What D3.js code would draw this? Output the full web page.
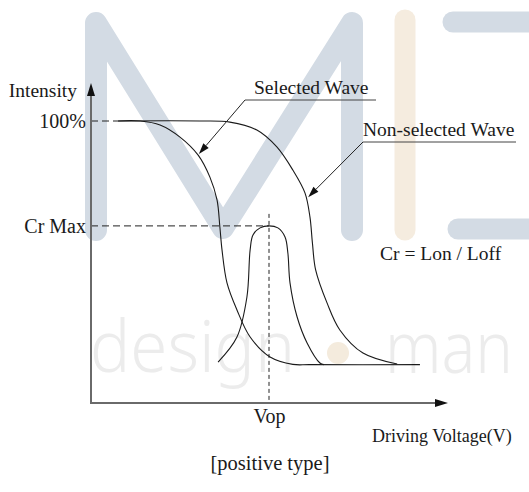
<!DOCTYPE html>
<html>
<head>
<meta charset="utf-8">
<script src="https://cdn.jsdelivr.net/npm/d3@7"></script>
<style>
  body { margin: 0; background: #fff; }
  svg text { font-family: "Liberation Serif", "Times New Roman", serif; fill: #1a1a1a; }
</style>
</head>
<body>
<div id="canvas"></div>
<script>
// curve values: [driving voltage %, intensity %]
const selectedWave = [
  [7.6, 100], [13.8, 100], [19.4, 98.6], [25.0, 94.3], [30.1, 87.9], [33.4, 80.1],
  [35.4, 72.0], [36.2, 62.4], [36.8, 54.3], [38.2, 42.6], [41.0, 33.0], [44.7, 23.4],
  [50.3, 16.3], [56.7, 13.7], [61.5, 13.6], [92.4, 13.6]
];
const nonSelectedWave = [
  [7.6, 100], [30.6, 100], [39.0, 99.6], [46.6, 96.8], [52.2, 90.8], [56.7, 82.6],
  [60.1, 74.5], [61.5, 66.0], [62.2, 56.7], [63.1, 47.2], [66.3, 35.5], [69.9, 25.9],
  [76.4, 17.7], [86.0, 13.8]
];
const contrastCurve = [
  [35.7, 14.5], [41.0, 23.4], [43.8, 37.6], [44.7, 54.3], [45.5, 59.6], [47.5, 62.1],
  [50.0, 62.8], [52.5, 62.1], [54.5, 58.9], [55.3, 53.2], [55.9, 42.6], [57.9, 30.5],
  [60.7, 21.3], [64.3, 14.2], [65.4, 13.6]
];

const yTicks = [100, 62.8];
const yTickLabels = ["100%", "Cr Max"];
const xTicks = [50];
const xTickLabels = ["Vop"];

// annotation arrows point at data positions
const annotations = [
  { label: "Selected Wave", at: [30.3, 88.3] },
  { label: "Non-selected Wave", at: [61.0, 73.0] }
];

const width = 529, height = 492;

const svg = d3.select("#canvas")
  .append("svg")
  .attr("width", width)
  .attr("height", height);

// Background watermark
const wm = svg.append("g").attr("fill", "none").attr("stroke-linecap", "round").attr("stroke-linejoin", "round");
wm.append("path")
  .attr("d", "M96,230 L96,23 L223,228 L352,23 L352,230")
  .attr("stroke", "#d3dbe4").attr("stroke-width", 22);
wm.append("line").attr("x1", 405).attr("y1", 20).attr("x2", 405).attr("y2", 230)
  .attr("stroke", "#f5ecdf").attr("stroke-width", 21);
wm.append("line").attr("x1", 453).attr("y1", 22).attr("x2", 560).attr("y2", 22)
  .attr("stroke", "#d3dbe4").attr("stroke-width", 21);
wm.append("line").attr("x1", 458).attr("y1", 229).attr("x2", 560).attr("y2", 229)
  .attr("stroke", "#d3dbe4").attr("stroke-width", 21);
svg.append("text").text("design")
  .attr("transform", "translate(90,372) scale(1,1.2)")
  .attr("textLength", 205).attr("lengthAdjust", "spacingAndGlyphs")
  .style("font-family", "'Noto Sans', sans-serif").style("font-size", "60px")
  .style("font-weight", 300).style("fill", "#ececec");
svg.append("text").text("man")
  .attr("transform", "translate(385,373) scale(1,1.2)")
  .attr("textLength", 128).attr("lengthAdjust", "spacingAndGlyphs")
  .style("font-family", "'Noto Sans', sans-serif").style("font-size", "60px")
  .style("font-weight", 300).style("fill", "#ececec");
svg.append("circle").attr("cx", 338).attr("cy", 353).attr("r", 11).attr("fill", "#f4ebdd");

// Scales
const x = d3.scaleLinear().domain([0, 100]).range([91, 447]);
const y = d3.scaleLinear().domain([0, 100]).range([403, 121]);

// Dashed guide lines
svg.append("line")
  .attr("x1", x(0)).attr("x2", x(selectedWave[0][0]))
  .attr("y1", y(100)).attr("y2", y(100))
  .attr("stroke", "#222").attr("stroke-dasharray", "7,4");
svg.append("line")
  .attr("x1", x(0)).attr("x2", x(xTicks[0]))
  .attr("y1", y(yTicks[1])).attr("y2", y(yTicks[1]))
  .attr("stroke", "#222").attr("stroke-dasharray", "7,4");
svg.append("line")
  .attr("x1", x(xTicks[0])).attr("x2", x(xTicks[0]))
  .attr("y1", y(yTicks[1]) - 12).attr("y2", y(0))
  .attr("stroke", "#222").attr("stroke-dasharray", "4,3");

// Curves
const line = d3.line()
  .x(d => x(d[0]))
  .y(d => y(d[1]))
  .curve(d3.curveCatmullRom.alpha(0.5));

[selectedWave, nonSelectedWave, contrastCurve].forEach(s => {
  svg.append("path")
    .datum(s)
    .attr("d", line)
    .attr("fill", "none")
    .attr("stroke", "#1a1a1a")
    .attr("stroke-width", 1.1);
});

// Axes (labels only, lines drawn below with arrows)
const yAxis = svg.append("g")
  .attr("transform", `translate(${x(0)},0)`)
  .call(d3.axisLeft(y).tickValues(yTicks).tickFormat((d, i) => yTickLabels[i]).tickSize(0).tickPadding(5));
const xAxis = svg.append("g")
  .attr("transform", `translate(0,${y(0)})`)
  .call(d3.axisBottom(x).tickValues(xTicks).tickFormat((d, i) => xTickLabels[i]).tickSize(0).tickPadding(6));
[yAxis, xAxis].forEach(a => {
  a.select(".domain").remove();
  a.selectAll("text")
    .style("font-family", "'Liberation Serif', serif")
    .style("font-size", "20px")
    .style("fill", "#1a1a1a");
});

svg.append("line")
  .attr("x1", x(0)).attr("x2", x(0))
  .attr("y1", y(0) + 1).attr("y2", 92)
  .attr("stroke", "#6a6a6a").attr("stroke-width", 2);
svg.append("line")
  .attr("x1", x(0) - 1).attr("x2", 438)
  .attr("y1", y(0)).attr("y2", y(0))
  .attr("stroke", "#6a6a6a").attr("stroke-width", 2);
svg.append("path")
  .attr("d", `M${x(0)},83 L${x(0) - 4},96 L${x(0) + 4},96 Z`)
  .attr("fill", "#111");
svg.append("path")
  .attr("d", `M448,${y(0)} L435,${y(0) - 4} L435,${y(0) + 4} Z`)
  .attr("fill", "#111");

// Axis titles
svg.append("text").text("Intensity")
  .attr("x", 77).attr("y", 97).attr("text-anchor", "end")
  .style("font-size", "19.5px");
svg.append("text").text("Driving Voltage(V)")
  .attr("x", 372).attr("y", 442)
  .style("font-size", "18px");
svg.append("text").text("[positive type]")
  .attr("x", 270).attr("y", 470).attr("text-anchor", "middle")
  .style("font-size", "20.5px");
svg.append("text").text("Cr = Lon / Loff")
  .attr("x", 380).attr("y", 260)
  .style("font-size", "19.5px");

// Annotation labels with leader arrows
const labelBoxes = [
  { x: 245, y: 100, w: 131, tx: 254, ty: 94 },
  { x: 363, y: 142, w: 153, tx: 363, ty: 136 }
];
annotations.forEach((a, i) => {
  const b = labelBoxes[i];
  const tipX = x(a.at[0]), tipY = y(a.at[1]);
  svg.append("text").text(a.label)
    .attr("x", b.tx).attr("y", b.ty)
    .style("font-size", "19.5px");
  svg.append("line")
    .attr("x1", b.x).attr("x2", b.x + b.w)
    .attr("y1", b.y).attr("y2", b.y)
    .attr("stroke", "#444").attr("stroke-width", 1);
  const ang = Math.atan2(tipY - b.y, tipX - b.x);
  const len = 11, hw = 3.5;
  const bx = tipX - len * Math.cos(ang), by = tipY - len * Math.sin(ang);
  svg.append("line")
    .attr("x1", b.x).attr("y1", b.y)
    .attr("x2", bx).attr("y2", by)
    .attr("stroke", "#222").attr("stroke-width", 1);
  const px = -Math.sin(ang) * hw, py = Math.cos(ang) * hw;
  svg.append("path")
    .attr("d", `M${tipX},${tipY} L${bx + px},${by + py} L${bx - px},${by - py} Z`)
    .attr("fill", "#111");
});
</script>
</body>
</html>
